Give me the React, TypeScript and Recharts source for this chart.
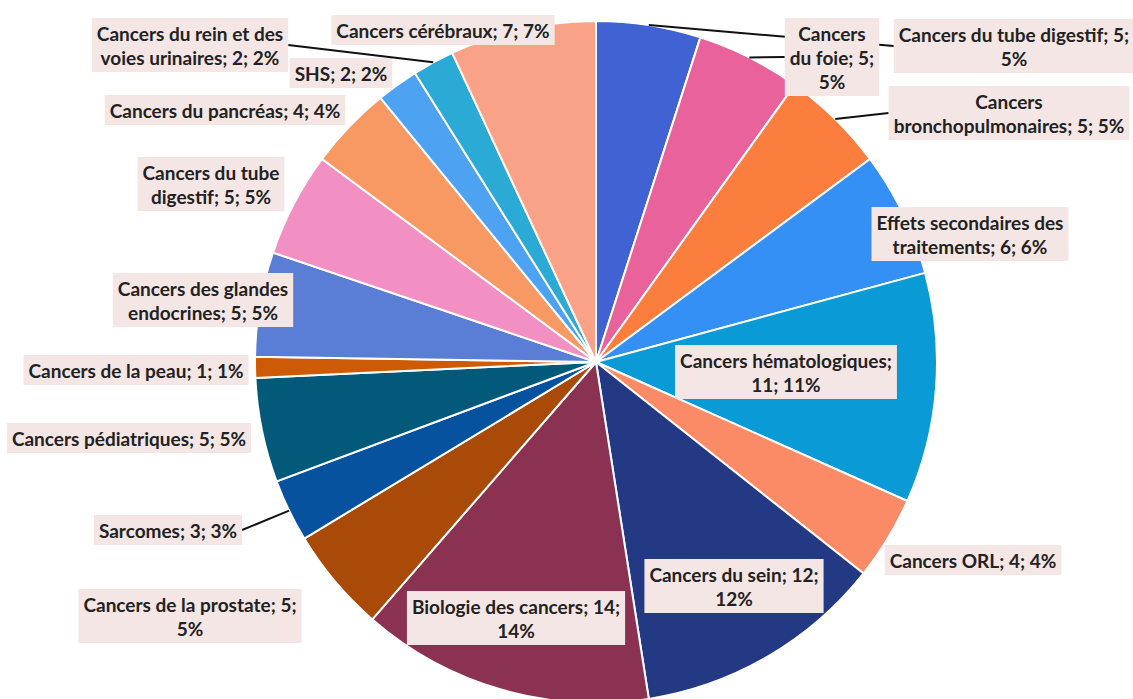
import React from 'react';
import { PieChart, Pie, Cell } from 'recharts';

// Répartition des thématiques
const CATEGORIES = [
  'Cancers du tube digestif',
  'Cancers du foie',
  'Cancers bronchopulmonaires',
  'Effets secondaires des traitements',
  'Cancers hématologiques',
  'Cancers ORL',
  'Cancers du sein',
  'Biologie des cancers',
  'Cancers de la prostate',
  'Sarcomes',
  'Cancers pédiatriques',
  'Cancers de la peau',
  'Cancers des glandes endocrines',
  'Cancers du tube digestif',
  'Cancers du pancréas',
  'SHS',
  'Cancers du rein et des voies urinaires',
  'Cancers cérébraux',
];
const VALUES = [5, 5, 5, 6, 11, 4, 12, 14, 5, 3, 5, 1, 5, 5, 4, 2, 2, 7];

const COLORS = [
  '#4062D2', '#EA629C', '#FC7E3E', '#3490F5', '#0A9AD5', '#FA8B66',
  '#243984', '#8B3252', '#A94A08', '#06529E', '#02597A', '#CC5A06',
  '#5A7ED6', '#F290C3', '#F89863', '#4DA3F2', '#2BAAD6', '#F9A287',
];

// layout: words per label line, label box centre offset from pie centre, leader line
const LINE_WORDS = [
  [5, 1], [1, 3, 1], [1, 3], [3, 3], [2, 2], [4], [4, 1], [4, 1], [5, 1],
  [3], [4], [6], [3, 3], [3, 3], [5], [3], [5, 4], [4],
];
const LABEL_OFFSET = [
  [418, -316], [236, -305], [413, -249], [374, -128], [190, 10], [377, 198],
  [138, 224], [-80, 256], [-406, 254], [-428, 168], [-467, 76], [-460, 8],
  [-393, -62], [-385, -178], [-371, -252], [-255, -289], [-406, -317], [-153, -332],
];
const HAS_LEADER = [0, 1, 2, 9, 16];

const FONT = 'bold 19px Lato';
const LH = 24;
const RAD = Math.PI / 180;

const ctx = typeof document !== 'undefined' ? document.createElement('canvas').getContext('2d') : null;
function textWidth(s: string) {
  if (!ctx) return s.length * 9;
  ctx.font = FONT;
  return ctx.measureText(s).width;
}

const data = CATEGORIES.map((name, i) => ({ name, value: VALUES[i] }));

function renderLabel(props: any) {
  const { cx, cy, midAngle, outerRadius, index, name, value, percent } = props;
  const words = `${name}; ${value}; ${Math.round(percent * 100)}%`.split(' ');
  const lines: string[] = [];
  let k = 0;
  for (const n of LINE_WORDS[index]) {
    lines.push(words.slice(k, k + n).join(' '));
    k += n;
  }
  const w = Math.max(...lines.map(textWidth)) + 10;
  const h = lines.length * LH + 6;
  const bx = cx + LABEL_OFFSET[index][0];
  const by = cy + LABEL_OFFSET[index][1];
  const sx = cx + outerRadius * Math.cos(-midAngle * RAD);
  const sy = cy + outerRadius * Math.sin(-midAngle * RAD);
  const ex = bx > sx ? bx - w / 2 : bx + w / 2;
  return (
    <g key={`lab-${index}`}>
      {HAS_LEADER.includes(index) && (
        <line x1={sx} y1={sy} x2={ex} y2={by} stroke="#111" strokeWidth={2} />
      )}
      <rect x={bx - w / 2} y={by - h / 2} width={w} height={h} fill="#F3E6E5" />
      {lines.map((ln, i) => (
        <text
          key={i}
          x={bx}
          y={by + (i - (lines.length - 1) / 2) * LH}
          textAnchor="middle"
          dominantBaseline="central"
          fill="#222"
          style={{ font: FONT }}
        >
          {ln}
        </text>
      ))}
    </g>
  );
}

export default function App() {
  return (
    <div style={{ position: 'absolute', left: 0, top: 0, background: '#fff' }}>
      <PieChart width={1133} height={699} margin={{ top: 0, right: 0, bottom: 0, left: 0 }}>
        <Pie
          data={data}
          dataKey="value"
          nameKey="name"
          cx={596}
          cy={362}
          outerRadius={341}
          startAngle={90}
          endAngle={-270}
          stroke="#fff"
          strokeWidth={2}
          label={renderLabel}
          labelLine={false}
          isAnimationActive={false}
        >
          {data.map((d, i) => (
            <Cell key={i} fill={COLORS[i]} />
          ))}
        </Pie>
      </PieChart>
    </div>
  );
}
